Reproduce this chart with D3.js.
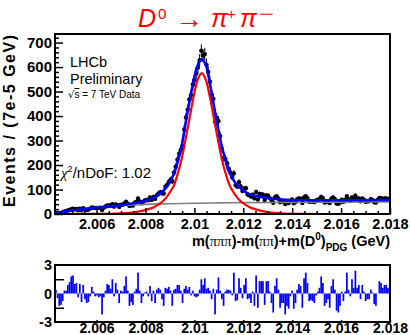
<!DOCTYPE html>
<html>
<head>
<meta charset="utf-8">
<script src="https://cdn.jsdelivr.net/npm/d3@7/dist/d3.min.js"></script>
<style>
  body { margin: 0; background: #fff; }
  svg { display: block; }
  text { font-family: "Liberation Sans", Arial, sans-serif; }
</style>
</head>
<body>
<svg id="chart" width="410" height="335"></svg>
<script>
// histogram binning (GeV)
const binStart = 2.0043;
const binEnd = 2.018;
const binWidth = 0.00007;

// events per bin
const counts = [
  5, 4, 3, 4, 6, 10, 11, 14, 17, 20,
  22, 19, 21, 15, 22, 15, 24, 18, 17, 18,
  22, 27, 26, 24, 25, 25, 26, 16, 26, 31,
  35, 35, 34, 40, 30, 39, 36, 29, 38, 38,
  43, 50, 42, 33, 36, 35, 46, 49, 63, 51,
  44, 50, 55, 57, 56, 68, 58, 70, 62, 77,
  84, 89, 85, 84, 111, 119, 131, 140, 134, 169,
  193, 222, 246, 262, 278, 345, 394, 426, 468, 485,
  529, 546, 574, 598, 628, 667, 646, 653, 610, 580,
  540, 484, 471, 377, 392, 380, 318, 266, 229, 226,
  207, 185, 170, 150, 166, 118, 112, 130, 112, 94,
  103, 105, 80, 77, 71, 79, 64, 90, 59, 82,
  80, 79, 57, 76, 75, 65, 55, 46, 68, 73,
  63, 48, 51, 51, 41, 48, 45, 54, 59, 44,
  49, 60, 64, 62, 45, 68, 73, 65, 50, 51,
  50, 49, 55, 58, 61, 70, 65, 47, 49, 52,
  45, 62, 68, 60, 43, 42, 47, 58, 50, 58,
  73, 60, 54, 68, 61, 75, 61, 63, 52, 63,
  58, 50, 52, 52, 60, 57, 48, 47, 57, 66,
  65, 61, 63, 63, 61, 60
];

// residuals per bin (lower pad)
const pulls = [
  0.4, -0.5, -1.3, -1.2, -0.8, 0.3, 0.3, 0.9, 1.2, 1.8,
  1.9, 1.0, 1.1, -0.4, 1.0, -0.9, 0.9, -0.6, -1.0, -0.9,
  -0.3, 0.7, 0.2, -0.3, -0.2, -0.4, -0.3, -2.2, -0.4, 0.3,
  1.0, 0.9, 0.5, 1.5, -0.3, 1.1, 0.4, -1.0, 0.3, 0.2,
  0.8, 1.8, 0.3, -1.3, -0.9, -1.2, 0.2, 0.5, 2.2, 0.3,
  -1.0, -0.3, 0.1, 0.2, -0.3, 0.8, -0.8, 0.3, -1.0, 0.4,
  0.6, 0.4, -0.6, -1.3, 0.6, 0.5, 0.7, 0.3, -1.3, 0.4,
  0.5, 0.9, 0.9, 0.3, -1.0, 0.5, 0.8, 0.4, 0.7, -0.2,
  0.3, -0.3, -0.4, -0.3, 0.4, 1.5, 0.9, 1.6, 0.5, 0.6,
  0.3, -0.6, 0.5, -2.2, 0.4, 1.7, 0.3, -0.6, -1.3, 0.2,
  0.4, 0.4, 0.3, -0.2, 2.2, -0.8, -0.7, 1.6, 0.6, -0.5,
  0.9, 1.6, -0.6, -0.5, -1.0, 0.2, -1.3, 1.9, -1.5, 1.3,
  1.3, 1.3, -1.2, 1.3, 1.3, 0.2, -1.0, -2.0, 0.8, 1.6,
  0.4, -1.5, -1.0, -1.0, -2.2, -1.3, -1.6, -0.3, 0.3, -1.6,
  -1.0, 0.4, 1.0, 0.8, -1.5, 1.6, 2.2, 1.1, -0.8, -0.7,
  -0.8, -1.0, -0.2, 0.2, 0.6, 1.8, 1.1, -1.3, -1.0, -0.6,
  -1.5, 0.8, 1.5, 0.4, -1.8, -2.0, -1.3, 0.2, -0.8, 0.2,
  2.2, 0.4, -0.3, 1.5, 0.6, 2.4, 0.6, 0.9, -0.6, 0.9,
  0.2, -0.8, -0.6, -0.6, 0.4, 0.1, -1.1, -1.3, 0.0, 1.3,
  1.1, 0.6, 0.9, 0.9, 0.6, 0.5
];

// total fit (blue)
const fitX = [2.00430, 2.00508, 2.00590, 2.00671, 2.00753, 2.00806, 2.00847, 2.00876, 2.00896, 2.00917,
  2.00933, 2.00945, 2.00970, 2.00990, 2.01011, 2.01030, 2.01048, 2.01066, 2.01084, 2.01113,
  2.01127, 2.01140, 2.01167, 2.01195, 2.01222, 2.01249, 2.01290, 2.01331, 2.01387, 2.01522, 2.01800];
const fitY = [4, 15, 25, 32, 44, 56, 74, 98, 124, 165,
  218, 262, 405, 510, 600, 632, 605, 520, 420, 272,
  222, 178, 128, 100, 82, 74, 66, 61, 57, 56, 57];

// signal component (red)
const sigX = [2.00430, 2.00457, 2.00621, 2.00682, 2.00744, 2.00776, 2.00805, 2.00834, 2.00858, 2.00875,
  2.00891, 2.00907, 2.00916, 2.00932, 2.00948, 2.00965, 2.00981, 2.00997, 2.01014, 2.01030,
  2.01046, 2.01063, 2.01079, 2.01095, 2.01112, 2.01128, 2.01145, 2.01153, 2.01169, 2.01185,
  2.01202, 2.01226, 2.01255, 2.01284, 2.01316, 2.01378, 2.01439, 2.01603, 2.01800];
const sigY = [0, 0, 0.7, 2, 6, 11, 18, 28, 42, 56,
  75, 100, 115, 165, 225, 310, 395, 480, 550, 575,
  550, 480, 395, 310, 225, 165, 115, 100, 75, 56,
  42, 28, 18, 11, 6, 2, 0.7, 0, 0];

// background component (grey)
const bkgX = [2.0043, 2.0049, 2.0056, 2.0064, 2.0072, 2.0080, 2.0090, 2.0100, 2.0110, 2.0120, 2.0140, 2.0160, 2.0180];
const bkgY = [3, 14, 22, 30, 36, 39.5, 42, 44, 45.5, 46.5, 47.5, 48.5, 49.5];

const xTicks = [2.006, 2.008, 2.010, 2.012, 2.014, 2.016, 2.018];
const xTickLabels = ['2.006', '2.008', '2.01', '2.012', '2.014', '2.016', '2.018'];
const yTicks = [0, 100, 200, 300, 400, 500, 600, 700];
const pullTicks = [-3, 0, 3];
const pullTickLabels = ['-3', '0', '3'];

const svg = d3.select('#chart');

const x = d3.scaleLinear().domain([binStart, binEnd]).range([55, 390]);
const y = d3.scaleLinear().domain([0, 735]).range([214, 34]);
const yPull = d3.scaleLinear().domain([-3, 3]).range([322, 265]);

const bins = counts.map((n, i) => ({ lo: binStart + i * binWidth, n: n, pull: pulls[i] }));

svg.append('clipPath').attr('id', 'clipMain')
  .append('rect').attr('x', 55).attr('y', 34).attr('width', 335).attr('height', 180);
svg.append('clipPath').attr('id', 'clipPull')
  .append('rect').attr('x', 55).attr('y', 265).attr('width', 335).attr('height', 57);

// title
const title = svg.append('g').attr('fill', '#ff0000');
title.append('text').attr('x', 138).attr('y', 27).attr('font-family', 'Liberation Serif')
  .attr('font-style', 'italic').attr('font-size', 25).text('D');
title.append('text').attr('x', 158).attr('y', 19).attr('font-family', 'Liberation Serif')
  .attr('font-size', 15).text('0');
title.append('text').attr('x', 175).attr('y', 28).attr('font-family', 'Liberation Serif')
  .attr('font-size', 27).attr('textLength', 28).attr('lengthAdjust', 'spacingAndGlyphs').text('\u2192');
title.append('text').attr('x', 211).attr('y', 27).attr('font-family', 'Liberation Serif')
  .attr('font-style', 'italic').attr('font-size', 25).text('\u03c0');
title.append('text').attr('x', 227).attr('y', 19).attr('font-family', 'DejaVu Sans')
  .attr('font-size', 15).text('+');
title.append('text').attr('x', 240).attr('y', 27).attr('font-family', 'Liberation Serif')
  .attr('font-style', 'italic').attr('font-size', 25).text('\u03c0');
title.append('text').attr('x', 259).attr('y', 19).attr('font-family', 'DejaVu Sans')
  .attr('font-size', 15).attr('textLength', 15).attr('lengthAdjust', 'spacingAndGlyphs').text('\u2212');

// ---- main pad ----
const main = svg.append('g');

const dataG = main.append('g').attr('clip-path', 'url(#clipMain)');
dataG.selectAll('.err').data(bins).enter().append('line')
  .attr('class', 'err')
  .attr('x1', d => x(d.lo + binWidth / 2)).attr('x2', d => x(d.lo + binWidth / 2))
  .attr('y1', d => y(d.n + Math.sqrt(d.n))).attr('y2', d => y(Math.max(0, d.n - Math.sqrt(d.n))))
  .attr('stroke', '#000').attr('stroke-width', 1);
dataG.selectAll('.pt').data(bins).enter().append('circle')
  .attr('class', 'pt')
  .attr('cx', d => x(d.lo + binWidth / 2)).attr('cy', d => y(d.n))
  .attr('r', 2.2).attr('fill', '#000');

const curve = d3.line().x(d => x(d[0])).y(d => y(d[1])).curve(d3.curveCatmullRom.alpha(0.5));
const curves = main.append('g').attr('clip-path', 'url(#clipMain)').attr('fill', 'none');
curves.append('path').datum(d3.zip(bkgX, bkgY)).attr('d', curve)
  .attr('stroke', '#7f7f7f').attr('stroke-width', 1.6);
curves.append('path').datum(d3.zip(sigX, sigY)).attr('d', curve)
  .attr('stroke', '#ff0000').attr('stroke-width', 2.2);
curves.append('path').datum(d3.zip(fitX, fitY)).attr('d', curve)
  .attr('stroke', '#0000ff').attr('stroke-width', 2.6);

// axes (ROOT style: ticks inside the frame)
function styleAxis(g) {
  g.select('.domain').remove();
  g.selectAll('.tick line').attr('stroke', '#000').attr('stroke-width', 1.5);
  g.selectAll('.tick text').attr('fill', '#000').attr('font-family', 'Liberation Sans')
    .attr('font-weight', 'bold').attr('font-size', 14.5);
}

const yMinor = d3.range(20, 735, 20).filter(v => v % 100 !== 0);
main.append('g').attr('transform', 'translate(55,0)')
  .call(d3.axisLeft(y).tickValues(yMinor).tickSize(-4).tickFormat(''))
  .call(styleAxis);
main.append('g').attr('transform', 'translate(55,0)')
  .call(d3.axisLeft(y).tickValues(yTicks).tickSize(-8).tickPadding(3).tickFormat(d3.format('d')))
  .call(styleAxis)
  .call(g => g.selectAll('.tick text').attr('font-size', 15));

const xMinor = d3.range(2.0045, 2.0180, 0.0005).filter(v => Math.abs(v * 500 - Math.round(v * 500)) > 1e-6);
main.append('g').attr('transform', 'translate(0,214)')
  .call(d3.axisBottom(x).tickValues(xMinor).tickSize(-3).tickFormat(''))
  .call(styleAxis);
main.append('g').attr('transform', 'translate(0,214)')
  .call(d3.axisBottom(x).tickValues(xTicks).tickSize(-6).tickPadding(5)
    .tickFormat((d, i) => xTickLabels[i]))
  .call(styleAxis);

main.append('rect').attr('x', 55).attr('y', 34).attr('width', 335).attr('height', 180)
  .attr('fill', 'none').attr('stroke', '#000').attr('stroke-width', 2);

// axis titles
svg.append('text')
  .attr('transform', 'translate(15,35) rotate(-90)')
  .attr('text-anchor', 'end')
  .attr('font-weight', 'bold').attr('font-size', 16)
  .attr('textLength', 172).attr('lengthAdjust', 'spacing')
  .text('Events / (7e-5 GeV)');

const xt = svg.append('text').attr('x', 390).attr('y', 246).attr('text-anchor', 'end')
  .attr('font-weight', 'bold').attr('font-size', 14.5);
xt.append('tspan').text('m(');
xt.append('tspan').attr('font-family', 'Liberation Serif').attr('font-weight', 'normal').text('\u03c0\u03c0\u03c0');
xt.append('tspan').text(')-m(');
xt.append('tspan').attr('font-family', 'Liberation Serif').attr('font-weight', 'normal').text('\u03c0\u03c0');
xt.append('tspan').text(')+m(D');
xt.append('tspan').attr('font-size', 10).attr('dy', -6).text('0');
xt.append('tspan').attr('dy', 6).text(')');
xt.append('tspan').attr('font-size', 10).attr('dy', 5).text('PDG');
xt.append('tspan').attr('dy', -5).text(' (GeV)');

// labels inside the plot
svg.append('text').attr('x', 70).attr('y', 67).attr('font-size', 14.5).text('LHCb');
svg.append('text').attr('x', 70).attr('y', 84).attr('font-size', 14.5).text('Preliminary');
const rs = svg.append('text').attr('x', 68).attr('y', 98).attr('font-size', 10);
rs.append('tspan').attr('font-family', 'DejaVu Sans').text('\u221a');
rs.append('tspan').attr('text-decoration', 'overline').text('s');
rs.append('tspan').text(' = 7 TeV Data');

const chi = svg.append('text').attr('x', 61).attr('y', 178).attr('font-size', 15);
chi.append('tspan').attr('font-family', 'Liberation Serif').attr('font-style', 'italic').text('\u03c7');
chi.append('tspan').attr('font-size', 9).attr('dy', -6).text('2');
chi.append('tspan').attr('dy', 6).text('/nDoF: 1.02');

// ---- residual pad ----
const pull = svg.append('g');
pull.append('g').attr('clip-path', 'url(#clipPull)')
  .selectAll('rect').data(bins).enter().append('rect')
  .attr('x', d => x(d.lo))
  .attr('width', d => x(d.lo + binWidth) - x(d.lo))
  .attr('y', d => yPull(Math.max(0, d.pull)))
  .attr('height', d => Math.abs(yPull(d.pull) - yPull(0)))
  .attr('fill', '#0000ff');

pull.append('g').attr('transform', 'translate(55,0)')
  .call(d3.axisLeft(yPull).tickValues([-1.5, 1.5]).tickSize(-9).tickFormat(''))
  .call(styleAxis);
pull.append('g').attr('transform', 'translate(55,0)')
  .call(d3.axisLeft(yPull).tickValues(pullTicks).tickSize(0).tickPadding(3)
    .tickFormat((d, i) => pullTickLabels[i]))
  .call(styleAxis);
pull.append('g').attr('transform', 'translate(0,322)')
  .call(d3.axisBottom(x).tickValues(xTicks).tickSize(-2).tickPadding(1)
    .tickFormat((d, i) => xTickLabels[i]))
  .call(styleAxis)
  .call(g => g.selectAll('.tick text').attr('font-size', 14));

pull.append('rect').attr('x', 55).attr('y', 265).attr('width', 335).attr('height', 57)
  .attr('fill', 'none').attr('stroke', '#000').attr('stroke-width', 2);
</script>
</body>
</html>
